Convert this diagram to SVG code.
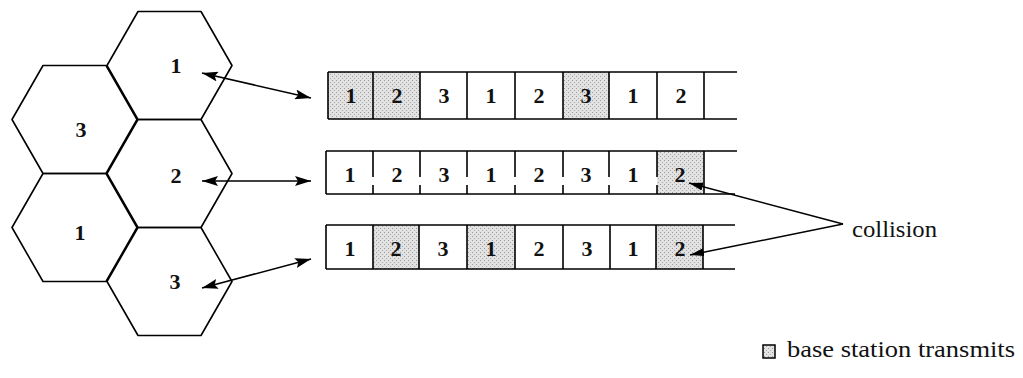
<svg xmlns="http://www.w3.org/2000/svg" width="1023" height="378" viewBox="0 0 1023 378">
<style>
.hex{fill:none;stroke:#000;stroke-width:1.6;stroke-linejoin:round}
.num{font-family:"Liberation Serif","Times New Roman",serif;font-weight:bold;font-size:22px;text-anchor:middle;fill:#111}
.ln{stroke:#000;stroke-width:1.6;fill:none}
.cell{stroke:none}
.lbl{font-family:"Liberation Serif","Times New Roman",serif;font-size:23px;fill:#111}
.arr{stroke:#000;stroke-width:1.5;fill:none}
</style>
<defs>
<pattern id="stip" width="4" height="4" patternUnits="userSpaceOnUse">
<rect width="4" height="4" fill="#e2e2e2"/>
<rect x="0" y="0" width="1" height="1" fill="#9a9a9a"/>
<rect x="2" y="2" width="1" height="1" fill="#aaaaaa"/>
</pattern>
<marker id="ah" viewBox="0 0 16 10" refX="16" refY="5" markerWidth="16" markerHeight="10" markerUnits="userSpaceOnUse" orient="auto-start-reverse">
<path d="M0,0 L16,5 L0,10 L3,5 z" fill="#000"/>
</marker>
<marker id="ah2" viewBox="0 0 14 8" refX="14" refY="4" markerWidth="14" markerHeight="8" markerUnits="userSpaceOnUse" orient="auto">
<path d="M0,0 L14,4 L0,8 z" fill="#000"/>
</marker>
</defs>

<g id="cells">
<g id="hex-top-1"><polygon class="hex" points="138,11.5 201,11.5 232,65.5 201,119.5 138,119.5 107,65.5"/><text class="num" x="176" y="73">1</text></g>
<g id="hex-left-3"><polygon class="hex" points="43,65.5 106,65.5 137,119.5 106,173.5 43,173.5 12,119.5"/><text class="num" x="81" y="137">3</text></g>
<g id="hex-mid-2"><polygon class="hex" points="138,119.5 201,119.5 232,173.5 201,227.5 138,227.5 107,173.5"/><text class="num" x="176" y="183">2</text></g>
<g id="hex-left-1"><polygon class="hex" points="43,173.5 106,173.5 137,227.5 106,281.5 43,281.5 12,227.5"/><text class="num" x="80" y="240">1</text></g>
<g id="hex-bot-3"><polygon class="hex" points="138,227.5 201,227.5 232,281.5 201,335.5 138,335.5 107,281.5"/><text class="num" x="175" y="289">3</text></g>
</g>

<g id="row1">
<rect class="cell" x="328" y="72" width="45" height="47" style="fill:url(#stip)"/>
<rect class="cell" x="373" y="72" width="47" height="47" style="fill:url(#stip)"/>
<rect class="cell" x="563" y="72" width="46" height="47" style="fill:url(#stip)"/>
<path class="ln" d="M328,72 H737 M328,119 H737 M328,72 V119 M373,72 V119 M420,72 V119 M467,72 V119 M515,72 V119 M563,72 V119 M609,72 V119 M657,72 V119 M704,72 V119"/>
<text class="num" x="351" y="103">1</text><text class="num" x="397" y="103">2</text><text class="num" x="444" y="103">3</text><text class="num" x="491" y="103">1</text><text class="num" x="539" y="103">2</text><text class="num" x="586" y="103">3</text><text class="num" x="633" y="103">1</text><text class="num" x="681" y="103">2</text>
</g>

<g id="row2">
<rect class="cell" x="657" y="151" width="47" height="43" style="fill:url(#stip)"/>
<path class="ln" d="M326,151 H737 M326,194 H735 M326,151 V194 M373,151 V177 M373,185 V194 M420,151 V177 M420,185 V194 M467,151 V177 M467,185 V194 M515,151 V177 M515,185 V194 M563,151 V177 M563,185 V194 M609,151 V177 M609,185 V194 M657,151 V177 M657,185 V194 M704,151 V194"/>
<text class="num" x="350" y="182">1</text><text class="num" x="397" y="182">2</text><text class="num" x="444" y="182">3</text><text class="num" x="491" y="182">1</text><text class="num" x="539" y="182">2</text><text class="num" x="586" y="182">3</text><text class="num" x="633" y="182">1</text><text class="num" x="680" y="182">2</text>
</g>

<g id="row3">
<rect class="cell" x="373" y="225" width="46" height="44" style="fill:url(#stip)"/>
<rect class="cell" x="467" y="225" width="48" height="44" style="fill:url(#stip)"/>
<rect class="cell" x="656" y="225" width="47" height="44" style="fill:url(#stip)"/>
<path class="ln" d="M326,225 H735 M326,269 H735 M326,225 V269 M373,225 V269 M419,225 V269 M467,225 V269 M515,225 V269 M563,225 V269 M610,225 V269 M656,225 V269 M703,225 V269"/>
<text class="num" x="350" y="256">1</text><text class="num" x="396" y="256">2</text><text class="num" x="443" y="256">3</text><text class="num" x="491" y="256">1</text><text class="num" x="539" y="256">2</text><text class="num" x="587" y="256">3</text><text class="num" x="633" y="256">1</text><text class="num" x="680" y="256">2</text>
</g>

<g id="connectors">
<line class="arr" x1="202" y1="73" x2="311" y2="98" marker-start="url(#ah)" marker-end="url(#ah)"/>
<line class="arr" x1="202" y1="181" x2="311" y2="181" marker-start="url(#ah)" marker-end="url(#ah)"/>
<line class="arr" x1="202" y1="288" x2="311" y2="259" marker-start="url(#ah)" marker-end="url(#ah)"/>
<line class="arr" x1="843" y1="224" x2="689" y2="183" marker-end="url(#ah2)"/>
<line class="arr" x1="843" y1="224" x2="690" y2="255" marker-end="url(#ah2)"/>
</g>

<g id="collision-label"><text class="lbl" x="852" y="237" textLength="85" lengthAdjust="spacingAndGlyphs">collision</text></g>

<g id="legend">
<rect x="763" y="345" width="12" height="13" style="fill:url(#stip)" stroke="#000" stroke-width="1.5"/>
<text class="lbl" x="787" y="357" textLength="228" lengthAdjust="spacingAndGlyphs">base station transmits</text>
</g>
</svg>
